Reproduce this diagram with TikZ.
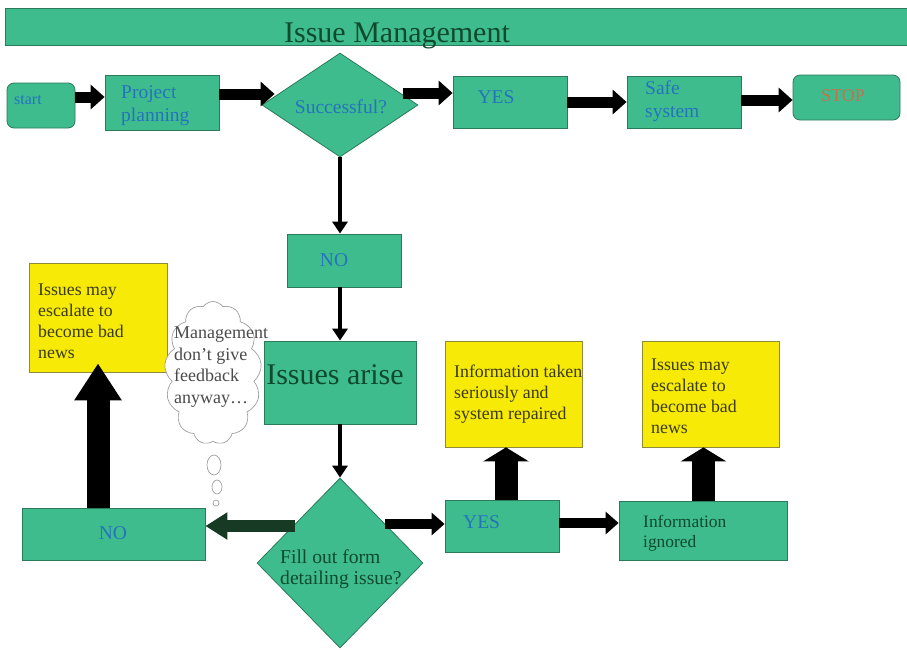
\documentclass[tikz,border=0pt]{standalone}
\usepackage{fontspec}
\setmainfont{Liberation Serif}
\usetikzlibrary{arrows.meta,shapes.geometric,shapes.symbols}
\definecolor{tealc}{HTML}{3FBC8E}
\definecolor{teald}{HTML}{2B7A5A}
\definecolor{yelc}{HTML}{F6EA06}
\definecolor{yeld}{HTML}{8E8A3A}
\definecolor{bluet}{HTML}{2474BC}
\definecolor{greent}{HTML}{0E4A2C}
\definecolor{olivet}{HTML}{3C3A14}
\definecolor{stopt}{HTML}{C8704A}
\definecolor{darkarrow}{HTML}{163A24}
\definecolor{cloudt}{HTML}{4A4A4A}
\begin{document}
\begin{tikzpicture}[x=1pt,y=-1pt,
  tbox/.style={draw=teald, fill=tealc, line width=0.8pt, inner sep=0pt},
  rbox/.style={tbox, rounded corners=7pt},
  ybox/.style={draw=yeld, fill=yelc, line width=0.8pt, inner sep=0pt},
  dia/.style={diamond, tbox},
  bluelbl/.style={text=bluet, inner sep=0pt, font=\fontsize{19.5}{23}\selectfont, align=left},
  greenlbl/.style={text=greent, inner sep=0pt, font=\fontsize{18}{21}\selectfont, align=left},
  yellbl/.style={text=olivet, inner sep=0pt, font=\fontsize{17.8}{21}\selectfont, align=left, anchor=west},
  topar/.style={line width=11pt, -{Triangle[length=14pt,width=24pt]}},
  vert/.style={line width=4.5pt, -{Triangle[length=12pt,width=15pt]}},
  midar/.style={line width=10pt, -{Triangle[length=13pt,width=22pt]}},
  bigup/.style={line width=23pt, -{Triangle[length=37pt,width=45pt]}},
  shortup/.style={line width=23pt, -{Triangle[length=14pt,width=45pt]}}
]
\useasboundingbox (0,0) rectangle (907,649);

% title bar
\node[tbox, minimum width=902pt, minimum height=37pt] (bar) at (456,26.5) {};
\node[anchor=base, inner sep=0pt, text=greent, font=\fontsize{30}{32}\selectfont] (title) at (397,42) {Issue Management};

% top row
\node[rbox, minimum width=68pt, minimum height=45pt] (start) at (41,105.5) {};
\node[tbox, minimum width=114pt, minimum height=55pt] (proj) at (162,102.5) {};
\node[dia, minimum width=156pt, minimum height=104pt] (succ) at (340,105) {};
\node[tbox, minimum width=114pt, minimum height=52pt] (yes1) at (510,102) {};
\node[tbox, minimum width=114pt, minimum height=52pt] (safe) at (684,102) {};
\node[rbox, minimum width=107pt, minimum height=45pt] (stop) at (846.5,97.5) {};

% middle column
\node[tbox, minimum width=114pt, minimum height=53pt] (no1) at (344,260.5) {};
\node[tbox, minimum width=152pt, minimum height=83pt] (issues) at (340,382.5) {};
\node[dia, minimum width=166pt, minimum height=170pt] (fill) at (340,563) {};

% bottom row
\node[tbox, minimum width=183pt, minimum height=52pt] (no2) at (113.5,534) {};
\node[tbox, minimum width=114pt, minimum height=52pt] (yes2) at (502,526) {};
\node[tbox, minimum width=168pt, minimum height=59pt] (ign) at (703,530.5) {};

% yellow boxes
\node[ybox, minimum width=138pt, minimum height=109pt] (yel1) at (98,317.5) {};
\node[ybox, minimum width=137pt, minimum height=106pt] (yel2) at (513.5,394) {};
\node[ybox, minimum width=137pt, minimum height=106pt] (yel3) at (710.5,394) {};

% thought cloud
\node[cloud, draw=gray!75, fill=white, line width=0.7pt, cloud puffs=13, cloud puff arc=110,
      cloud ignores aspect, minimum width=97pt, minimum height=143pt, inner sep=0pt] (cloud) at (213,373) {};
\draw[gray!75, line width=0.7pt, fill=white] (214,465) ellipse [x radius=7, y radius=10];
\draw[gray!75, line width=0.7pt, fill=white] (217,487) ellipse [x radius=5, y radius=7];
\draw[gray!75, line width=0.7pt, fill=white] (216,503) circle [radius=3];

% top arrows
\draw[topar] ([yshift=8.5pt]start.east) -- ([yshift=8.5pt]start.east -| proj.west);
\draw[topar] ([yshift=8.5pt]proj.east) -- ([xshift=13pt,yshift=11pt]succ.west);
\draw[topar] ([xshift=-15pt,yshift=12pt]succ.east) -- ([yshift=9pt]yes1.west);
\draw[topar] (yes1.east) -- (safe.west);
\draw[topar] ([yshift=2pt]safe.east) -- ([yshift=-2.5pt]stop.west);

% vertical arrows
\draw[vert] (succ.south) -- (no1.north -| succ.south);
\draw[vert] (no1.south -| succ.south) -- (issues.north);
\draw[vert] (issues.south) -- (fill.north);

% bottom arrows
\draw[midar, darkarrow, line width=12pt, -{Triangle[length=22pt,width=26pt]}] ([xshift=-45pt,yshift=37pt]fill.center) -- ([yshift=8pt]no2.east);
\draw[midar] ([xshift=-38pt,yshift=39pt]fill.east) -- ([yshift=2pt]yes2.west);
\draw[midar] ([yshift=3pt]yes2.east) -- ([yshift=3pt]yes2.east -| ign.west);

% up arrows
\draw[bigup] ([xshift=-15.5pt]no2.north) -- ([yshift=9pt]yel1.south);
\draw[shortup] ([xshift=4pt]yes2.north) -- ([xshift=4pt]yes2.north |- yel2.south);
\draw[shortup] ([xshift=0.5pt]ign.north) -- ([xshift=0.5pt]ign.north |- yel3.south);

% labels
\node[bluelbl, anchor=west, font=\fontsize{16}{19}\selectfont] (tstart) at (14,100) {start};
\node[bluelbl, anchor=west] (tproj) at (121,105.5) {Project\\planning};
\node[bluelbl] (tsucc) at (341,107) {Successful?};
\node[bluelbl] (tyes1) at (496,97) {YES};
\node[bluelbl, anchor=west] (tsafe) at (645,101) {Safe\\system};
\node[bluelbl, text=stopt, font=\fontsize{18}{21}\selectfont] (tstop) at (843,96) {STOP};
\node[bluelbl] (tno1) at (334,260) {NO};
\node[greenlbl, font=\fontsize{30}{32}\selectfont] (tissues) at (335,375) {Issues arise};
\node[bluelbl] (tno2) at (113,533) {NO};
\node[greenlbl, anchor=west, font=\fontsize{19.6}{21}\selectfont] (tfill) at (280,569.5) {Fill out form\\detailing issue?};
\node[bluelbl, anchor=west] (tyes2) at (463,522) {YES};
\node[greenlbl, anchor=west, font=\fontsize{17.4}{20}\selectfont] (tign) at (643,533) {Information\\ignored};
\node[yellbl] (tyel1) at (38,321) {Issues may\\escalate to\\become bad\\news};
\node[yellbl] (tyel2) at (454,394) {Information taken\\seriously and\\system repaired};
\node[yellbl] (tyel3) at (651,396.5) {Issues may\\escalate to\\become bad\\news};
\node[yellbl, text=cloudt, font=\fontsize{18}{21.5}\selectfont] (tcloud) at (174,367) {Management\\don’t give\\feedback\\anyway…};
\end{tikzpicture}
\end{document}
